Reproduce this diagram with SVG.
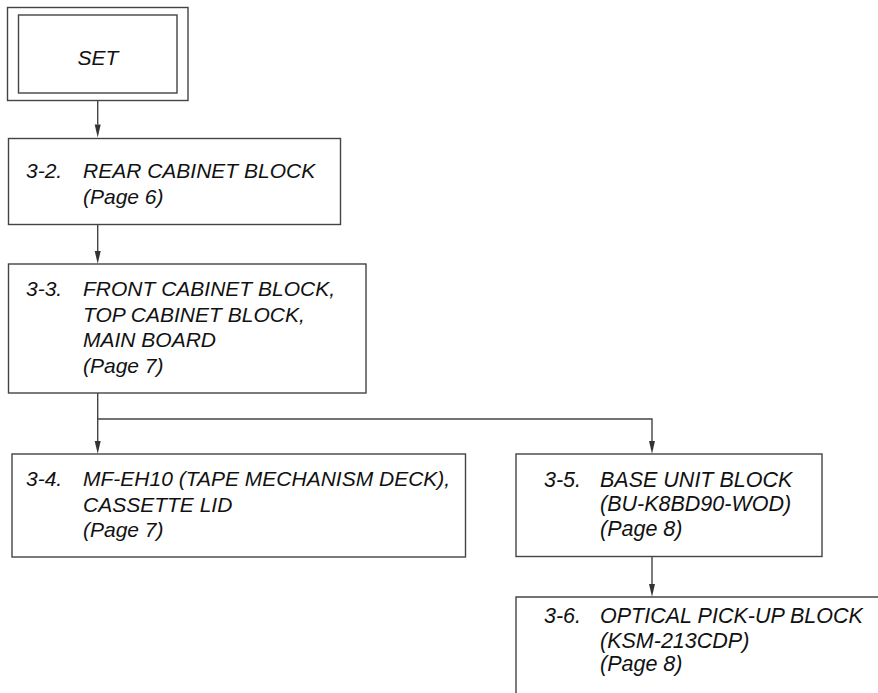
<svg xmlns="http://www.w3.org/2000/svg" width="878" height="693" viewBox="0 0 878 693">
<style>
.box{fill:#fff;stroke:#444;stroke-width:1.4}
.ln{fill:none;stroke:#444;stroke-width:1.4}
.ah{fill:#333}
.t{font-family:"Liberation Sans",Arial,sans-serif;font-style:italic;font-size:21px;fill:#111}
.tr{font-family:"Liberation Sans",Arial,sans-serif;font-style:italic;font-size:21.5px;fill:#111}
</style>
<rect width="878" height="693" fill="#fff"/>
<g id="connectors">
<line class="ln" x1="97.7" y1="100.5" x2="97.7" y2="124.5"/>
<path class="ah" d="M94.7,124.5 L100.7,124.5 L97.7,137.5 Z"/>
<line class="ln" x1="97.7" y1="224.5" x2="97.7" y2="251"/>
<path class="ah" d="M94.7,251 L100.7,251 L97.7,263.8 Z"/>
<line class="ln" x1="97.7" y1="393" x2="97.7" y2="441"/>
<path class="ah" d="M94.7,441 L100.7,441 L97.7,453.8 Z"/>
<polyline class="ln" points="97.7,419 652,419 652,441"/>
<path class="ah" d="M649,441 L655,441 L652,453.8 Z"/>
<line class="ln" x1="652" y1="556.5" x2="652" y2="584"/>
<path class="ah" d="M649,584 L655,584 L652,596.8 Z"/>
</g>
<g id="set">
<rect class="box" x="7.5" y="7.5" width="180.5" height="93"/>
<rect class="box" x="18.5" y="15" width="158.5" height="78"/>
<text class="t" x="98" y="65" text-anchor="middle">SET</text>
</g>
<g id="n32">
<rect class="box" x="8.5" y="138.5" width="332" height="86"/>
<text class="t" x="26" y="177.5">3-2.</text>
<text class="t" x="83" y="177.5">REAR CABINET BLOCK</text>
<text class="t" x="83" y="203.5">(Page 6)</text>
</g>
<g id="n33">
<rect class="box" x="8.5" y="264" width="357.5" height="129"/>
<text class="t" x="26" y="296">3-3.</text>
<text class="t" x="83" y="296">FRONT CABINET BLOCK,</text>
<text class="t" x="83" y="321.5">TOP CABINET BLOCK,</text>
<text class="t" x="83" y="347">MAIN BOARD</text>
<text class="t" x="83" y="372.5">(Page 7)</text>
</g>
<g id="n34">
<rect class="box" x="12" y="454" width="453.5" height="103"/>
<text class="t" x="26" y="486">3-4.</text>
<text class="t" x="83" y="486">MF-EH10 (TAPE MECHANISM DECK),</text>
<text class="t" x="83" y="511.5">CASSETTE LID</text>
<text class="t" x="83" y="537">(Page 7)</text>
</g>
<g id="n35">
<rect class="box" x="516" y="454" width="306" height="102.5"/>
<text class="tr" x="544" y="486.5">3-5.</text>
<text class="tr" x="600" y="486.5">BASE UNIT BLOCK</text>
<text class="tr" x="600" y="511">(BU-K8BD90-WOD)</text>
<text class="tr" x="600" y="535.5">(Page 8)</text>
</g>
<g id="n36">
<path class="ln" d="M880,597 H516 V695"/>
<text class="tr" x="544" y="623">3-6.</text>
<text class="tr" x="600" y="623">OPTICAL PICK-UP BLOCK</text>
<text class="tr" x="600" y="647.5">(KSM-213CDP)</text>
<text class="tr" x="600" y="671">(Page 8)</text>
</g>
</svg>
